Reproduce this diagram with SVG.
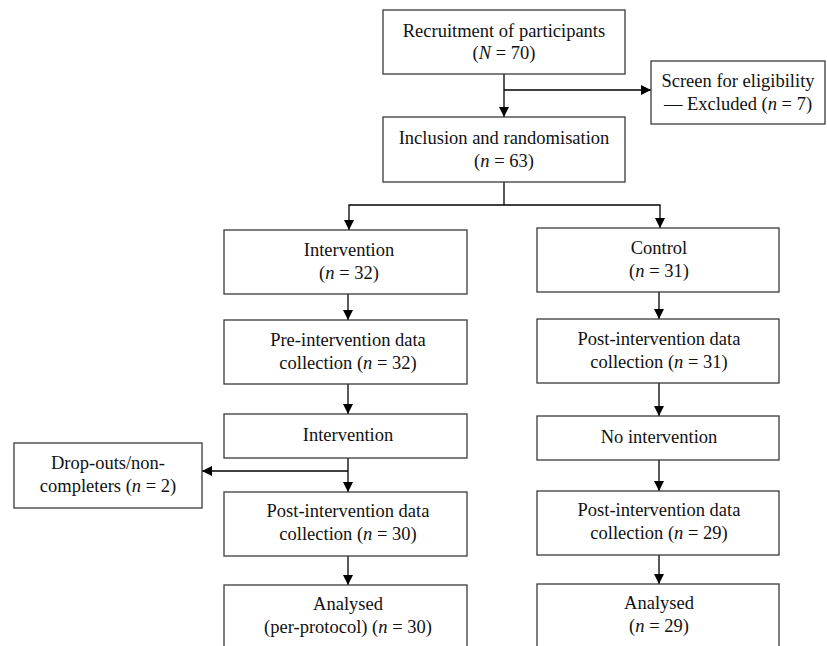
<svg xmlns="http://www.w3.org/2000/svg" width="827" height="646" viewBox="0 0 827 646">
<style>
.box{fill:#fff;stroke:#3a3a3a;stroke-width:1.3}
.t{font-family:'Liberation Serif','DejaVu Serif',serif;font-size:18.5px;fill:#111;text-anchor:middle}
.i{font-style:italic}
.c{fill:none;stroke:#000;stroke-width:1.3}
</style>
<defs>
<marker id="ah" markerUnits="userSpaceOnUse" markerWidth="10" markerHeight="10" refX="10" refY="5" orient="auto">
<path d="M0,0 L10,5 L0,10 z" fill="#000"/>
</marker>
</defs>
<rect width="827" height="646" fill="#fff"/>
<g id="connectors">
<line class="c" x1="504" y1="74" x2="504" y2="117" marker-end="url(#ah)"/>
<line class="c" x1="504" y1="90" x2="651" y2="90" marker-end="url(#ah)"/>
<line class="c" x1="504" y1="182" x2="504" y2="205"/>
<line class="c" x1="348.5" y1="205" x2="660.5" y2="205"/>
<line class="c" x1="349" y1="205" x2="349" y2="230" marker-end="url(#ah)"/>
<line class="c" x1="660" y1="205" x2="660" y2="228" marker-end="url(#ah)"/>
<line class="c" x1="348" y1="294" x2="348" y2="320" marker-end="url(#ah)"/>
<line class="c" x1="659" y1="292" x2="659" y2="319" marker-end="url(#ah)"/>
<line class="c" x1="348" y1="384" x2="348" y2="414" marker-end="url(#ah)"/>
<line class="c" x1="659" y1="383" x2="659" y2="416" marker-end="url(#ah)"/>
<line class="c" x1="348" y1="458" x2="348" y2="492" marker-end="url(#ah)"/>
<line class="c" x1="348" y1="471" x2="202" y2="471" marker-end="url(#ah)"/>
<line class="c" x1="659" y1="460" x2="659" y2="491" marker-end="url(#ah)"/>
<line class="c" x1="348" y1="556" x2="348" y2="585" marker-end="url(#ah)"/>
<line class="c" x1="659" y1="555" x2="659" y2="584" marker-end="url(#ah)"/>
</g>
<g font-family="Liberation Serif, serif">
<g id="recruitment">
<rect class="box" x="383" y="10" width="242" height="64"/>
<text class="t" x="504" y="37">Recruitment of participants</text>
<text class="t" x="504" y="59">(<tspan class="i">N</tspan> = 70)</text>
</g>
<g id="screen">
<rect class="box" x="651" y="61" width="174" height="63"/>
<text class="t" x="738" y="87">Screen for eligibility</text>
<text class="t" x="738" y="110">— Excluded (<tspan class="i">n</tspan> = 7)</text>
</g>
<g id="inclusion">
<rect class="box" x="383" y="117" width="242" height="65"/>
<text class="t" x="504" y="143.5">Inclusion and randomisation</text>
<text class="t" x="504" y="166.5">(<tspan class="i">n</tspan> = 63)</text>
</g>
<g id="intervention-group">
<rect class="box" x="224" y="230" width="243" height="64"/>
<text class="t" x="349" y="256">Intervention</text>
<text class="t" x="349" y="279">(<tspan class="i">n</tspan> = 32)</text>
</g>
<g id="control-group">
<rect class="box" x="537" y="228" width="242" height="64"/>
<text class="t" x="659" y="254">Control</text>
<text class="t" x="659" y="277">(<tspan class="i">n</tspan> = 31)</text>
</g>
<g id="pre-intervention">
<rect class="box" x="224" y="320" width="243" height="64"/>
<text class="t" x="348" y="346">Pre-intervention data</text>
<text class="t" x="348" y="369">collection (<tspan class="i">n</tspan> = 32)</text>
</g>
<g id="control-post1">
<rect class="box" x="537" y="319" width="242" height="64"/>
<text class="t" x="659" y="345">Post-intervention data</text>
<text class="t" x="659" y="368">collection (<tspan class="i">n</tspan> = 31)</text>
</g>
<g id="intervention">
<rect class="box" x="224" y="414" width="243" height="44"/>
<text class="t" x="348" y="441">Intervention</text>
</g>
<g id="no-intervention">
<rect class="box" x="537" y="416" width="242" height="44"/>
<text class="t" x="659" y="443">No intervention</text>
</g>
<g id="dropouts">
<rect class="box" x="14" y="443" width="188" height="65"/>
<text class="t" x="108" y="469">Drop-outs/non-</text>
<text class="t" x="108" y="492">completers (<tspan class="i">n</tspan> = 2)</text>
</g>
<g id="post-intervention">
<rect class="box" x="224" y="492" width="243" height="64"/>
<text class="t" x="348" y="517">Post-intervention data</text>
<text class="t" x="348" y="540">collection (<tspan class="i">n</tspan> = 30)</text>
</g>
<g id="control-post2">
<rect class="box" x="537" y="491" width="242" height="64"/>
<text class="t" x="659" y="516">Post-intervention data</text>
<text class="t" x="659" y="539">collection (<tspan class="i">n</tspan> = 29)</text>
</g>
<g id="analysed-intervention">
<rect class="box" x="224" y="585" width="243" height="70"/>
<text class="t" x="348" y="610">Analysed</text>
<text class="t" x="348" y="633">(per-protocol) (<tspan class="i">n</tspan> = 30)</text>
</g>
<g id="analysed-control">
<rect class="box" x="537" y="584" width="242" height="70"/>
<text class="t" x="659" y="609">Analysed</text>
<text class="t" x="659" y="632">(<tspan class="i">n</tspan> = 29)</text>
</g>
</g>
</svg>
